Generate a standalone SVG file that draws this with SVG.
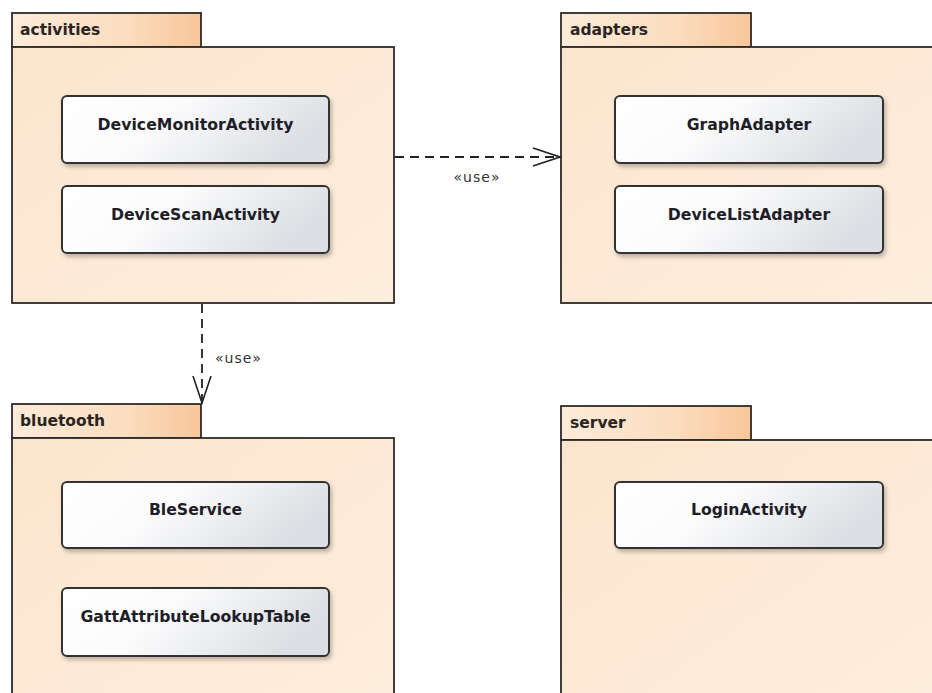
<svg xmlns="http://www.w3.org/2000/svg" width="932" height="693" viewBox="0 0 932 693">
  <defs>
    <linearGradient id="tabGrad" x1="0" y1="0" x2="1" y2="0">
      <stop offset="0" stop-color="#FDEBD9"/>
      <stop offset="0.6" stop-color="#FBDDBF"/>
      <stop offset="1" stop-color="#F8C69A"/>
    </linearGradient>
    <linearGradient id="bodyGrad" x1="0" y1="0" x2="1" y2="1">
      <stop offset="0" stop-color="#FCE5CE"/>
      <stop offset="1" stop-color="#FEEEDD"/>
    </linearGradient>
    <linearGradient id="classGrad" x1="0" y1="0" x2="1" y2="0.3">
      <stop offset="0" stop-color="#FFFFFF"/>
      <stop offset="0.45" stop-color="#FBFBFC"/>
      <stop offset="1" stop-color="#DCDFE3"/>
    </linearGradient>
    <filter id="shadow" x="-10%" y="-10%" width="125%" height="140%">
      <feDropShadow dx="2" dy="3" stdDeviation="2" flood-color="#000" flood-opacity="0.25"/>
    </filter>
    <marker id="openArrow" markerWidth="30" markerHeight="24" refX="28" refY="12" orient="auto" markerUnits="userSpaceOnUse">
      <path d="M1,3 L28,12 L1,21" fill="none" stroke="#222" stroke-width="1.6"/>
    </marker>
  </defs>
  <style>
    .tab { fill: url(#tabGrad); stroke: #2e2a28; stroke-width: 1.8; }
    .body { fill: url(#bodyGrad); stroke: #2e2a28; stroke-width: 1.8; }
    .pkgLabel { font-family: "DejaVu Sans", Verdana, sans-serif; font-weight: bold; font-size: 15.5px; fill: #2a2522; }
    .cls { fill: url(#classGrad); stroke: #333; stroke-width: 2; filter: url(#shadow); }
    .clsLabel { font-family: "DejaVu Sans", Verdana, sans-serif; font-weight: bold; font-size: 15.7px; fill: #1e1e28; text-anchor: middle; }
    .dep { fill: none; stroke: #222; stroke-width: 1.8; stroke-dasharray: 9 6; }
    .stereo { font-family: "DejaVu Sans", Verdana, sans-serif; font-size: 14px; letter-spacing: 1px; fill: #333; }
  </style>
  <rect x="0" y="0" width="932" height="693" fill="#FFFFFF"/>

  <g id="activities">
    <rect class="tab" x="12" y="13" width="189" height="34"/>
    <rect class="body" x="12" y="47" width="382" height="256"/>
    <text class="pkgLabel" x="20" y="35">activities</text>
    <g id="DeviceMonitorActivity">
      <rect class="cls" x="62" y="96" width="267" height="67" rx="5"/>
      <text class="clsLabel" x="195.5" y="130">DeviceMonitorActivity</text>
    </g>
    <g id="DeviceScanActivity">
      <rect class="cls" x="62" y="186" width="267" height="67" rx="5"/>
      <text class="clsLabel" x="195.5" y="220">DeviceScanActivity</text>
    </g>
  </g>

  <g id="adapters">
    <rect class="tab" x="561" y="13" width="190" height="34"/>
    <rect class="body" x="561" y="47" width="380" height="256"/>
    <text class="pkgLabel" x="570" y="35">adapters</text>
    <g id="GraphAdapter">
      <rect class="cls" x="615" y="96" width="268" height="67" rx="5"/>
      <text class="clsLabel" x="749" y="130">GraphAdapter</text>
    </g>
    <g id="DeviceListAdapter">
      <rect class="cls" x="615" y="186" width="268" height="67" rx="5"/>
      <text class="clsLabel" x="749" y="220">DeviceListAdapter</text>
    </g>
  </g>

  <g id="bluetooth">
    <rect class="tab" x="12" y="404" width="189" height="34"/>
    <rect class="body" x="12" y="438" width="382" height="270"/>
    <text class="pkgLabel" x="20" y="426">bluetooth</text>
    <g id="BleService">
      <rect class="cls" x="62" y="482" width="267" height="66" rx="5"/>
      <text class="clsLabel" x="195.5" y="515">BleService</text>
    </g>
    <g id="GattAttributeLookupTable">
      <rect class="cls" x="62" y="588" width="267" height="68" rx="5"/>
      <text class="clsLabel" x="195.5" y="622">GattAttributeLookupTable</text>
    </g>
  </g>

  <g id="server">
    <rect class="tab" x="561" y="406" width="190" height="34"/>
    <rect class="body" x="561" y="440" width="380" height="270"/>
    <text class="pkgLabel" x="570" y="428">server</text>
    <g id="LoginActivity">
      <rect class="cls" x="615" y="482" width="268" height="66" rx="5"/>
      <text class="clsLabel" x="749" y="515">LoginActivity</text>
    </g>
  </g>

  <g id="connectors">
    <line class="dep" x1="395" y1="157" x2="560" y2="157" marker-end="url(#openArrow)"/>
    <text class="stereo" x="477" y="182" text-anchor="middle">«use»</text>
    <line class="dep" x1="202" y1="304" x2="202" y2="403" marker-end="url(#openArrow)"/>
    <text class="stereo" x="215" y="363">«use»</text>
  </g>
</svg>
